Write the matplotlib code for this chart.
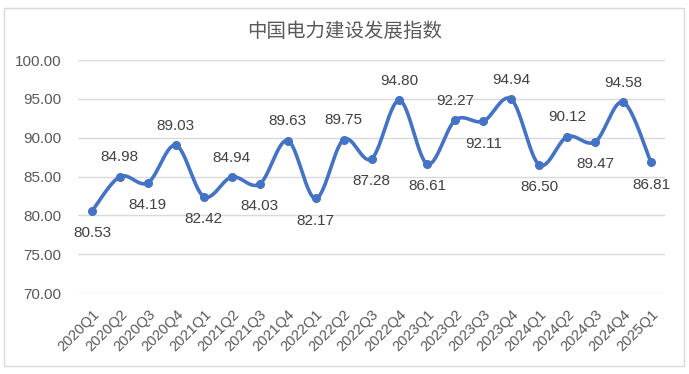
import numpy as np
import matplotlib
matplotlib.use("Agg")
import matplotlib.pyplot as plt
from matplotlib.patches import Rectangle

categories = ["2020Q1","2020Q2","2020Q3","2020Q4","2021Q1","2021Q2","2021Q3","2021Q4",
              "2022Q1","2022Q2","2022Q3","2022Q4","2023Q1","2023Q2","2023Q3","2023Q4",
              "2024Q1","2024Q2","2024Q3","2024Q4","2025Q1"]
values = [80.53,84.98,84.19,89.03,82.42,84.94,84.03,89.63,82.17,89.75,87.28,94.80,
          86.61,92.27,92.11,94.94,86.50,90.12,89.47,94.58,86.81]
label_pos = ["below","above","below","above","below","above","below","above","below","above",
             "below","above","below","above","below","above","below","above","below","above","below"]
yticks = [70,75,80,85,90,95,100]

plt.rcParams['font.family'] = ['Liberation Sans', 'DejaVu Sans']

fig = plt.figure(figsize=(6.89, 3.74), dpi=100)
ax = fig.add_axes([78/689, 1-293/374, 587/689, 233/374])

x = np.arange(len(values))
y = np.array(values, dtype=float)

# Excel-like smoothed line: cubic Bezier with Catmull-Rom control points
px, py = [], []
n = len(x)
for i in range(n - 1):
    p0 = (x[i-1] if i > 0 else x[i], y[i-1] if i > 0 else y[i])
    p1 = (x[i], y[i])
    p2 = (x[i+1], y[i+1])
    p3 = (x[i+2] if i + 2 < n else x[i+1], y[i+2] if i + 2 < n else y[i+1])
    c1 = (p1[0] + (p2[0]-p0[0])/6, p1[1] + (p2[1]-p0[1])/6)
    c2 = (p2[0] - (p3[0]-p1[0])/6, p2[1] - (p3[1]-p1[1])/6)
    t = np.linspace(0, 1, 30)
    bx = (1-t)**3*p1[0] + 3*(1-t)**2*t*c1[0] + 3*(1-t)*t**2*c2[0] + t**3*p2[0]
    by = (1-t)**3*p1[1] + 3*(1-t)**2*t*c1[1] + 3*(1-t)*t**2*c2[1] + t**3*p2[1]
    px.extend(bx); py.extend(by)

color = "#4472C4"
ax.plot(px, py, color=color, lw=2.6, solid_capstyle='round', zorder=3)
ax.plot(x, y, 'o', color=color, ms=5.5, zorder=4)

for xi, yi, pos in zip(x, y, label_pos):
    off = 14 if pos == "above" else -16
    ax.annotate(f"{yi:.2f}", (xi, yi), xytext=(0, off), textcoords='offset points',
                ha='center', va='center', fontsize=11, color='#404040')

ax.set_xlim(-0.5, n - 0.5)
ax.set_ylim(70, 100)
ax.set_yticks(yticks)
ax.set_yticklabels([f"{v:.2f}" for v in yticks], fontsize=11, color='#595959')
ax.set_xticks(x)
ax.set_xticklabels(categories, rotation=45, ha='right', rotation_mode='anchor',
                   fontsize=10.5, color='#595959')
ax.tick_params(axis='both', length=0)
ax.tick_params(axis='x', pad=10)
ax.tick_params(axis='y', pad=12)
ax.grid(axis='y', color='#D9D9D9', lw=1)
ax.set_axisbelow(True)
for s in ax.spines.values():
    s.set_visible(False)

fig.text(0.5, 1-31/374, "中国电力建设发展指数", ha='center', va='center', fontsize=14,
         color='#595959', family=['Noto Sans CJK SC', 'DejaVu Sans'])

fig.patches.append(Rectangle((4/689, 1-366/374), 680/689, 358/374, transform=fig.transFigure,
                             fill=False, edgecolor='#D9D9D9', lw=1))

fig.savefig("out.png", dpi=100)
